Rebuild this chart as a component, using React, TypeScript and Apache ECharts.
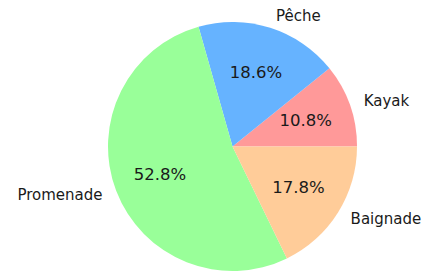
import React, { useEffect, useRef } from "react";
import * as echarts from "echarts";

const categories = ["Kayak", "Pêche", "Promenade", "Baignade"];
const values = [10.8, 18.6, 52.8, 17.8];
const colors = ["#ff9999", "#66b3ff", "#99ff99", "#ffcc99"];

export default function App() {
  const ref = useRef<HTMLDivElement>(null);
  useEffect(() => {
    if (!ref.current) return;
    const chart = echarts.init(ref.current, undefined, { renderer: "svg" });
    const R = 124.5;
    const center = [232.5, 146.5];
    const data = categories.map((name, i) => ({
      name,
      value: values[i],
      itemStyle: { color: colors[i] },
    }));
    chart.setOption({
      animation: false,
      backgroundColor: "#ffffff",
      series: [
        {
          type: "pie",
          center,
          radius: [0, R],
          startAngle: 0,
          clockwise: false,
          avoidLabelOverlap: false,
          silent: true,
          data,
          itemStyle: { borderWidth: 0 },
          label: {
            show: true,
            position: "outside",
            formatter: "{b}",
            fontFamily: "DejaVu Sans",
            fontSize: 15,
            color: "#1a1a1a",
            distanceToLabelLine: 2,
          },
          labelLine: { show: false, length: R * 0.1, length2: 0 },
        },
        {
          type: "pie",
          center,
          radius: [R * 0.2, R],
          startAngle: 0,
          clockwise: false,
          avoidLabelOverlap: false,
          silent: true,
          data: categories.map((name, i) => ({
            name,
            value: values[i],
            itemStyle: { color: "rgba(0,0,0,0)" },
          })),
          itemStyle: { borderWidth: 0 },
          label: {
            show: true,
            position: "inside",
            formatter: (p: any) => p.value.toFixed(1) + "%",
            fontFamily: "DejaVu Sans",
            fontSize: 16.5,
            color: "#1a1a1a",
          },
          labelLine: { show: false },
        },
      ],
    });
    return () => chart.dispose();
  }, []);
  return (
    <div
      ref={ref}
      style={{ position: "fixed", left: 0, top: 0, width: 427, height: 273 }}
    />
  );
}
